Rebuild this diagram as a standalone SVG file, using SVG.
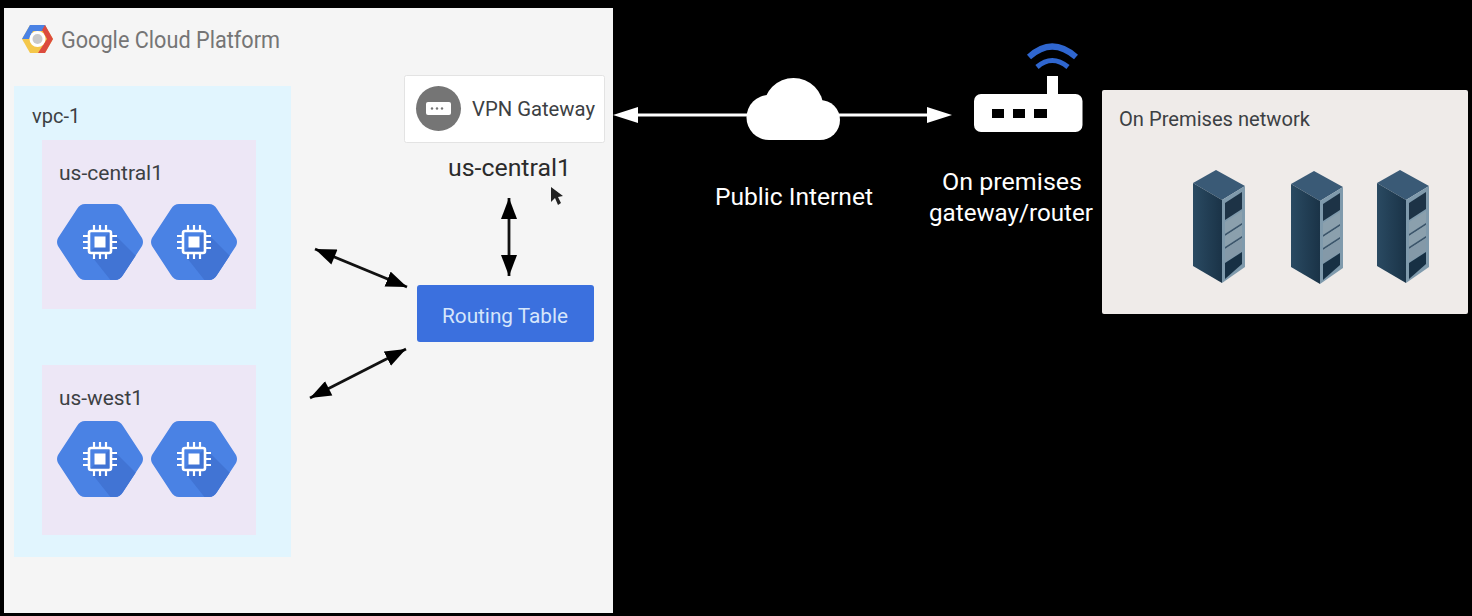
<svg xmlns="http://www.w3.org/2000/svg" xmlns:xlink="http://www.w3.org/1999/xlink" width="1472" height="616" viewBox="0 0 1472 616">
<style>
text{font-family:Roboto,"Liberation Sans",sans-serif}
.dk{fill:#3c4043;font-size:20px}
.wh{fill:#fff;font-size:24px}
.a{stroke:#111;stroke-width:2.8;fill:none;marker-start:url(#bs);marker-end:url(#be)}
.w{stroke:#fff;stroke-width:3;fill:none}
</style>
<defs>
<marker id="be" markerUnits="userSpaceOnUse" markerWidth="22" markerHeight="18" refX="21" refY="8" orient="auto"><path d="M0 0L21 8L0 16z" fill="#000"/></marker>
<marker id="bs" markerUnits="userSpaceOnUse" markerWidth="22" markerHeight="18" refX="0" refY="8" orient="auto"><path d="M21 0L0 8L21 16z" fill="#000"/></marker>
<linearGradient id="rk" x1="0" x2="1"><stop offset="0" stop-color="#2a4a62"/><stop offset="1" stop-color="#1a3347"/></linearGradient>
<clipPath id="hc"><path id="hp" d="M-15 -38H15Q20 -38 23 -33L42 -4Q44 0 42 4L23 33Q20 38 15 38H-15Q-20 38 -23 33L-42 4Q-44 0 -42 -4L-23 -33Q-20 -38 -15 -38Z"/></clipPath>
<g id="hex">
<path d="M-15 -38H15Q20 -38 23 -33L42 -4Q44 0 42 4L23 33Q20 38 15 38H-15Q-20 38 -23 33L-42 4Q-44 0 -42 -4L-23 -33Q-20 -38 -15 -38Z" fill="#4a82e4"/>
<path d="M11 -11L50 28V50H20L-11 11Z" fill="#4174d4" clip-path="url(#hc)"/>
<rect x="-11" y="-11" width="22" height="22" rx="2" fill="none" stroke="#fff" stroke-width="2.6"/>
<rect x="-5.500" y="-5.500" width="11" height="11" fill="#fff"/>
<path d="M-6 -17V-11M0 -17V-11M6 -17V-11M-6 11V17M0 11V17M6 11V17M-17 -6H-11M-17 0H-11M-17 6H-11M11 -6H17M11 0H17M11 6H17" stroke="#fff" stroke-width="2.2"/>
</g>
<g id="rack">
<path d="M0 12L23 -1L52 15L29 29Z" fill="#3a5a76"/>
<path d="M0 12L29 29V112L0 95Z" fill="url(#rk)"/>
<path d="M29 29L52 15V96L29 112Z" fill="#7f9aac"/>
<path d="M32 32L49 21V38L32 49Z" fill="#1d3346"/>
<path d="M32 51L49 40V52L32 63Z" fill="#8ba0ad"/>
<path d="M32 63L49 52V54L32 65Z" fill="#3c556a"/>
<path d="M32 65L49 54V65L32 76Z" fill="#8ba0ad"/>
<path d="M32 76L49 65V67L32 78Z" fill="#3c556a"/>
<path d="M32 78L49 67V80L32 91Z" fill="#8499a8"/>
<path d="M32 92L49 81V93L32 108Z" fill="#173044"/>
</g>
</defs>
<rect width="1472" height="616" fill="#000"/>

<g id="gcp-panel">
<rect x="4" y="8" width="609" height="605" fill="#f5f5f5"/>
<g id="gcp-logo">
<path d="M30 25H45L53 39L45 53H30L22 39Z" fill="#f4c74a"/>
<path d="M30 25H45L48 31H33L29 39H22Z" fill="#4a82e4"/>
<path d="M45 25L53 39L45 53H38L47 39L42 30Z" fill="#dc4b3e"/>
<circle cx="37.500" cy="39" r="8" fill="#fff"/>
<circle cx="37.500" cy="39" r="5" fill="#c9c9c9"/>
</g>
<text x="61" y="48" font-size="24" fill="#757575" textLength="219" lengthAdjust="spacingAndGlyphs">Google Cloud Platform</text>
</g>

<g id="vpc-1">
<rect x="14" y="86" width="277" height="471" fill="#e1f5fe"/>
<text class="dk" x="32" y="123">vpc-1</text>
</g>

<g id="us-central1-zone">
<rect x="42" y="140" width="214" height="169" fill="#ede7f6"/>
<text class="dk" x="59" y="180" textLength="104" lengthAdjust="spacingAndGlyphs">us-central1</text>
<use xlink:href="#hex" href="#hex" x="100" y="242"/>
<use xlink:href="#hex" href="#hex" x="194" y="242"/>
</g>

<g id="us-west1-zone">
<rect x="42" y="365" width="214" height="170" fill="#ede7f6"/>
<text class="dk" x="59" y="405" textLength="84" lengthAdjust="spacingAndGlyphs">us-west1</text>
<use xlink:href="#hex" href="#hex" x="100" y="459"/>
<use xlink:href="#hex" href="#hex" x="194" y="459"/>
</g>

<g id="vpn-gateway">
<rect x="404.500" y="75.500" width="200" height="67" rx="2" fill="#fff" stroke="#e3e3e3"/>
<circle cx="438.500" cy="108.500" r="22.500" fill="#757575"/>
<rect x="426" y="102" width="25" height="13" rx="2" fill="#fff"/>
<circle cx="432" cy="108.500" r="1.200" fill="#757575"/><circle cx="437" cy="108.500" r="1.200" fill="#757575"/><circle cx="442" cy="108.500" r="1.200" fill="#757575"/>
<text x="472" y="116" font-size="20" fill="#3c4043" textLength="123" lengthAdjust="spacingAndGlyphs">VPN Gateway</text>
</g>
<text id="vpn-region" x="448" y="176" font-size="24" fill="#2b2b2b" textLength="123" lengthAdjust="spacingAndGlyphs">us-central1</text>
<path id="cursor" d="M551 187V202L555 198L558 205L561 203L558 197L563 196Z" fill="#222"/>

<g id="routing-table">
<rect x="417" y="285" width="177" height="57" rx="3" fill="#3b70de"/>
<text x="442" y="323" font-size="20" fill="#d6e6fb" textLength="126" lengthAdjust="spacingAndGlyphs">Routing Table</text>
</g>

<g id="connectors">
<path class="a" d="M509 198V276"/>
<path class="a" d="M315 249L407 287"/>
<path class="a" d="M310 398L406 349"/>
<path class="w" d="M632 115H750"/>
<path d="M613 115L638 107V123Z" fill="#fff"/>
<path class="w" d="M835 115H930"/>
<path d="M952 115L927 107V123Z" fill="#fff"/>
</g>

<g id="public-internet" fill="#fff">
<circle cx="793.500" cy="108" r="30"/>
<circle cx="769" cy="117.500" r="22.500"/>
<circle cx="820" cy="120" r="20"/>
<rect x="769" y="110" width="51" height="30"/>
<text class="wh" x="715" y="205" textLength="158" lengthAdjust="spacingAndGlyphs">Public Internet</text>
</g>

<g id="router">
<rect x="1047" y="76" width="11" height="22" fill="#fff"/>
<rect x="974" y="94" width="108.500" height="38" rx="7" fill="#fff"/>
<rect x="992" y="109" width="12" height="9" fill="#000"/>
<rect x="1013" y="109" width="12" height="9" fill="#000"/>
<rect x="1034" y="109" width="13" height="9" fill="#000"/>
<path d="M1029 57Q1052 36 1076 57" fill="none" stroke="#2f66cf" stroke-width="6"/>
<path d="M1037 67Q1052 54 1068 67" fill="none" stroke="#2f66cf" stroke-width="5"/>
<text class="wh" x="942" y="190" textLength="140" lengthAdjust="spacingAndGlyphs">On premises</text>
<text class="wh" x="929" y="221" textLength="164" lengthAdjust="spacingAndGlyphs">gateway/router</text>
</g>

<g id="on-premises">
<rect x="1102" y="90" width="366" height="224" rx="2" fill="#efebe9"/>
<text class="dk" x="1119" y="126" textLength="191" lengthAdjust="spacingAndGlyphs">On Premises network</text>
<use xlink:href="#rack" href="#rack" x="1193" y="171"/>
<use xlink:href="#rack" href="#rack" x="1291" y="172"/>
<use xlink:href="#rack" href="#rack" x="1377" y="171"/>
</g>
</svg>
